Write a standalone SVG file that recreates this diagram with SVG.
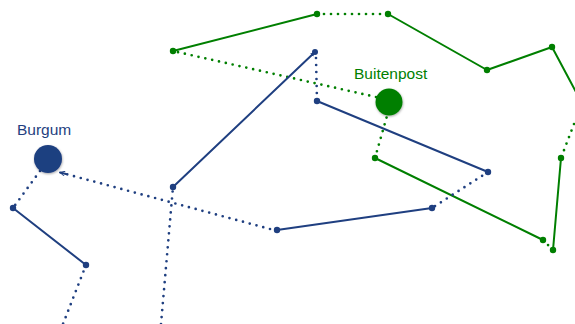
<svg xmlns="http://www.w3.org/2000/svg" width="575" height="324" viewBox="0 0 575 324">
<defs>
<filter id="sh" x="-50%" y="-50%" width="200%" height="200%">
<feDropShadow dx="0.5" dy="1" stdDeviation="1" flood-color="#000" flood-opacity="0.35"/>
</filter>
<marker id="openB" viewBox="0 0 10 10" refX="9" refY="5" markerWidth="6" markerHeight="6" orient="auto" markerUnits="userSpaceOnUse">
<path d="M1,1 L9,5 L1,9" fill="none" stroke="#1f3f80" stroke-width="1.6"/>
</marker>
<marker id="fillB" viewBox="0 0 10 10" refX="8" refY="5" markerWidth="6" markerHeight="6" orient="auto" markerUnits="userSpaceOnUse">
<path d="M0,1.5 L10,5 L0,8.5 Z" fill="#1f3f80"/>
</marker>
</defs>
<style>
.b{stroke:#1f3f80;fill:none}
.g{stroke:#007f00;fill:none}
.s{stroke-width:2;stroke-linecap:round}
.d{stroke-width:2.7;stroke-dasharray:0 7;stroke-linecap:round}
.pb{fill:#1f3f80}
.pg{fill:#007f00}
.lbl{font-family:"Liberation Sans",Arial,sans-serif;font-size:15.5px}
</style>
<g id="connectors">
<line class="g s" x1="173" y1="51" x2="317" y2="14"/>
<line class="g d" x1="317" y1="14" x2="388" y2="14"/>
<line class="g s" x1="388" y1="14" x2="487" y2="70"/>
<line class="g s" x1="487" y1="70" x2="552" y2="47"/>
<line class="g s" x1="552" y1="47" x2="577" y2="94"/>
<line class="g d" x1="574" y1="124" x2="561" y2="158"/>
<line class="g s" x1="561" y1="158" x2="553" y2="250"/>
<line class="g d" x1="553" y1="250" x2="543" y2="240"/>
<line class="g s" x1="543" y1="240" x2="375" y2="158"/>
<line class="g d" x1="375" y1="158" x2="387" y2="116"/>
<line class="g d" x1="376" y1="97" x2="173" y2="51"/>
<line class="b d" x1="161" y1="324" x2="173" y2="187"/>
<line class="b s" x1="173" y1="187" x2="315" y2="52" marker-end="url(#fillB)"/>
<line class="b d" x1="316" y1="58" x2="317" y2="101"/>
<line class="b s" x1="317" y1="101" x2="488" y2="172"/>
<line class="b d" x1="488" y1="172" x2="432" y2="208"/>
<line class="b s" x1="432" y1="208" x2="277" y2="230"/>
<line class="b d" x1="270" y1="229" x2="66" y2="174"/>
<line class="b s" x1="66" y1="174" x2="60" y2="172.5" marker-end="url(#openB)"/>
<line class="b d" x1="40" y1="171" x2="13" y2="208"/>
<line class="b s" x1="13" y1="208" x2="86" y2="265"/>
<line class="b d" x1="86" y1="265" x2="63" y2="324"/>
</g>
<g id="waypoints-green">
<circle class="pg" cx="173" cy="51" r="3.2"/>
<circle class="pg" cx="317" cy="14" r="3.2"/>
<circle class="pg" cx="388" cy="14" r="3.2"/>
<circle class="pg" cx="487" cy="70" r="3.2"/>
<circle class="pg" cx="552" cy="47" r="3.2"/>
<circle class="pg" cx="561" cy="158" r="3.2"/>
<circle class="pg" cx="553" cy="250" r="3.2"/>
<circle class="pg" cx="543" cy="240" r="3.2"/>
<circle class="pg" cx="375" cy="158" r="3.2"/>
</g>
<g id="waypoints-blue">
<circle class="pb" cx="173" cy="187" r="3.2"/>
<circle class="pb" cx="315" cy="52" r="3"/>
<circle class="pb" cx="317" cy="101" r="3.2"/>
<circle class="pb" cx="488" cy="172" r="3.2"/>
<circle class="pb" cx="432" cy="208" r="3.2"/>
<circle class="pb" cx="277" cy="230" r="3.2"/>
<circle class="pb" cx="13" cy="208" r="3.2"/>
<circle class="pb" cx="86" cy="265" r="3.2"/>
</g>
<g id="Burgum">
<circle class="pb" cx="48" cy="159" r="14" filter="url(#sh)"/>
<text class="lbl" x="17" y="135" fill="#1f3f80">Burgum</text>
</g>
<g id="Buitenpost">
<circle class="pg" cx="389" cy="102" r="13.5" filter="url(#sh)"/>
<text class="lbl" x="354" y="79" fill="#007f00">Buitenpost</text>
</g>
</svg>
